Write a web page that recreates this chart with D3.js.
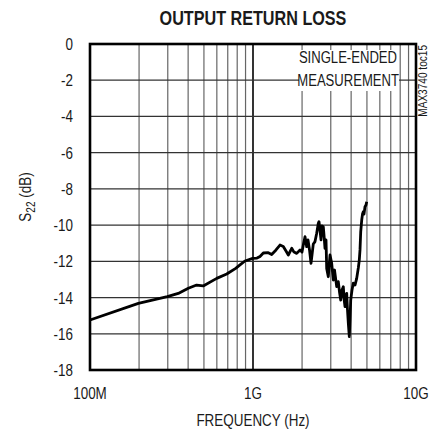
<!DOCTYPE html>
<html>
<head>
<meta charset="utf-8">
<script src="https://cdn.jsdelivr.net/npm/d3@7"></script>
<style>
  body { margin: 0; background: #fff; }
  text { font-family: "Liberation Sans", Arial, sans-serif; fill: #1a1a1a; }
</style>
</head>
<body>
<script>
var width = 430
var height = 431
var svgContainer;
var squeeze = 0.84;   // Helvetica Narrow look-alike

// frequency (GHz) and S22 (dB)
var freqGHz = [0.100, 0.198, 0.298, 0.348, 0.401, 0.451, 0.495, 0.599, 0.690, 0.783,
               0.832, 0.893, 0.995, 1.058, 1.104, 1.157, 1.241, 1.302, 1.384, 1.464,
               1.534, 1.594, 1.647, 1.728, 1.784, 1.854, 1.943, 1.998, 2.035, 2.085,
               2.135, 2.175, 2.222, 2.269, 2.301, 2.344, 2.401, 2.459, 2.516, 2.541,
               2.576, 2.614, 2.651, 2.700, 2.735, 2.765, 2.805, 2.832, 2.897, 2.968,
               3.039, 3.109, 3.162, 3.262, 3.337, 3.394, 3.452, 3.516, 3.581, 3.627,
               3.668, 3.720, 3.757, 3.800, 3.844, 3.898, 3.937, 3.976, 4.049, 4.124,
               4.225, 4.327, 4.426, 4.489, 4.534, 4.579, 4.645, 4.697, 4.750, 4.797,
               4.865, 4.935, 4.983];
var s22dB = [-15.24, -14.32, -13.95, -13.77, -13.49, -13.31, -13.36, -12.94, -12.70, -12.39,
             -12.20, -11.98, -11.84, -11.82, -11.73, -11.54, -11.52, -11.62, -11.37, -11.10,
             -11.18, -11.43, -11.65, -11.28, -11.49, -11.56, -11.37, -11.49, -11.10, -10.64,
             -11.19, -10.82, -11.37, -12.11, -11.65, -11.04, -10.91, -10.45, -9.90, -9.81,
             -10.27, -10.82, -10.05, -10.09, -10.71, -11.28, -10.82, -12.39, -12.85, -11.65,
             -12.11, -13.03, -12.48, -13.40, -13.12, -13.69, -14.14, -13.58, -13.40, -14.14,
             -14.50, -13.86, -13.77, -14.69, -15.42, -16.16, -15.24, -14.14, -13.58, -13.21,
             -13.31, -12.94, -12.37, -11.93, -11.37, -10.38, -9.72, -9.39, -9.26, -9.39,
             -8.98, -8.89, -8.71];

var yTicks = [0, -2, -4, -6, -8, -10, -12, -14, -16, -18];
var xTickValues = [0.1, 1, 10];
var xTickLabels = ["100M", "1G", "10G"];

svgContainer = d3.select("body").append("svg")
                 .attr("width", width)
                 .attr("height", height);

var x = d3.scaleLog().domain([0.1, 10]).range([90, 416]);
var y = d3.scaleLinear().domain([0, -18]).range([44, 370]);

// narrow text: squeeze horizontally around the anchor point
var addText = function(px, py, str, size, anchor, rot, sq){
    return svgContainer.append("text")
        .attr("transform", "translate(" + px + "," + py + ")" + (rot ? " rotate(" + rot + ")" : "") + " scale(" + (sq || squeeze) + ",1)")
        .attr("text-anchor", anchor)
        .style("font-size", size + "px")
        .text(str);
}

// grid
svgContainer.append("g").selectAll("line")
    .data(x.ticks())
    .enter().append("line")
    .attr("x1", function(d){ return x(d); })
    .attr("x2", function(d){ return x(d); })
    .attr("y1", y(0))
    .attr("y2", y(-18))
    .style("stroke", function(d){ return Math.abs(d - 1) < 1e-9 ? "#000" : "#666"; })
    .style("stroke-width", function(d){ return Math.abs(d - 1) < 1e-9 ? 1.6 : 1.2; });

svgContainer.append("g").selectAll("line")
    .data(yTicks)
    .enter().append("line")
    .attr("x1", x(0.1))
    .attr("x2", x(10))
    .attr("y1", function(d){ return y(d); })
    .attr("y2", function(d){ return y(d); })
    .style("stroke", "#333")
    .style("stroke-width", 1.2);

// annotation box
svgContainer.append("rect")
    .attr("x", 299).attr("y", 50)
    .attr("width", 100).attr("height", 41)
    .style("fill", "#fff");
addText(397, 63, "SINGLE-ENDED", 17, "end", 0, 0.77);
addText(399, 86, "MEASUREMENT", 17, "end", 0, 0.77);

// trace
var line = d3.line()
    .x(function(d, i){ return x(freqGHz[i]); })
    .y(function(d){ return y(d); });
svgContainer.append("path")
    .datum(s22dB)
    .attr("d", line)
    .style("fill", "none")
    .style("stroke", "#000")
    .style("stroke-width", 2.8)
    .style("stroke-linejoin", "round");

// frame
svgContainer.append("rect")
    .attr("x", x(0.1)).attr("y", y(0))
    .attr("width", x(10) - x(0.1))
    .attr("height", y(-18) - y(0))
    .style("fill", "none")
    .style("stroke", "#000")
    .style("stroke-width", 2.6);

// axis labels
yTicks.forEach(function(d){
    addText(73, y(d) + 6, d, 16, "end");
});
xTickValues.forEach(function(d, i){
    addText(x(d), 399, xTickLabels[i], 16, "middle");
});

addText(253, 426, "FREQUENCY (Hz)", 16, "middle");

var yl = addText(31, 197, "", 16, "middle", -90);
yl.append("tspan").text("S");
yl.append("tspan").attr("dy", 4).style("font-size", "12px").text("22");
yl.append("tspan").attr("dy", -4).text(" (dB)");

addText(253, 25, "OUTPUT RETURN LOSS", 21, "middle", 0, 0.77)
    .style("font-weight", "bold");

addText(427, 45, "MAX3740 toc15", 12, "end", -90);
</script>
</body>
</html>
